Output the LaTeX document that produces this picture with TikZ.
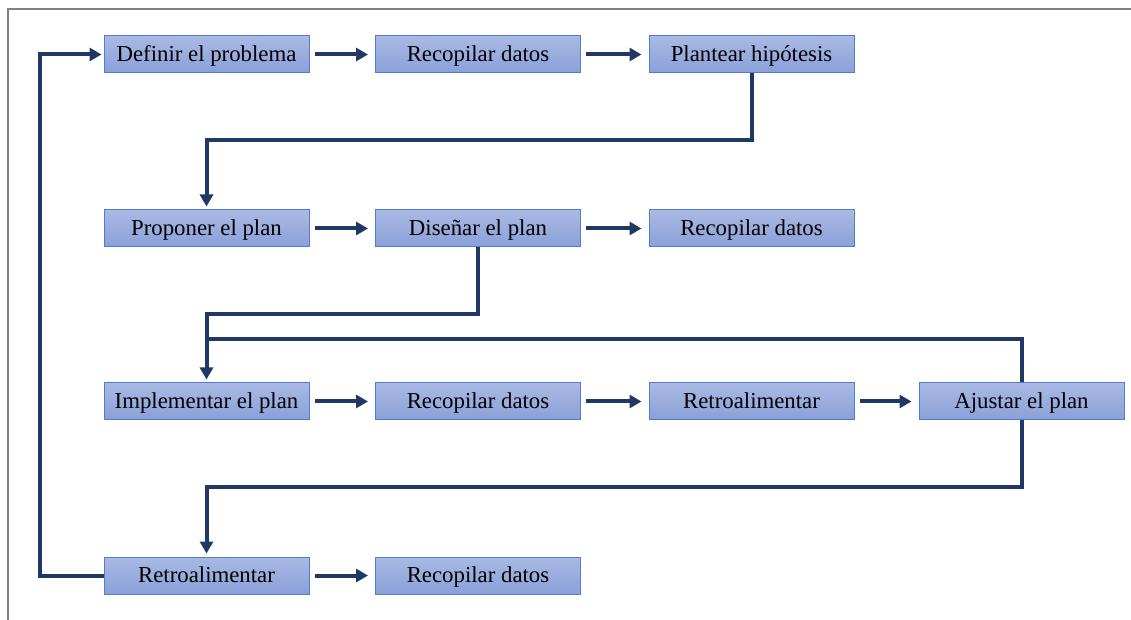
\documentclass[tikz,border=0pt]{standalone}
\usepackage{fontspec}
\setmainfont{Liberation Serif}
\usepackage{xcolor}
\usepackage{tikz}
\usetikzlibrary{arrows.meta}

\definecolor{navy}{RGB}{31,56,100}
\definecolor{boxedge}{RGB}{82,124,206}
\definecolor{boxtop}{RGB}{170,185,228}
\definecolor{boxbottom}{RGB}{137,160,216}
\definecolor{framegray}{RGB}{128,128,128}

\begin{document}
\begin{tikzpicture}[x = 0.5pt, y = -0.5pt,
  stepbox/.style = {draw = boxedge, line width = 0.5pt, top color = boxtop, bottom color = boxbottom,
    minimum width = 102.5pt, minimum height = 18.5pt, inner sep = 0pt,
    text height = 0.8em, text depth = 0.12em,
    font = \fontsize{11.4}{13}\selectfont},
  link/.style = {draw = navy, line width = 2pt},
  flow/.style = {link, -{Triangle[length = 6pt, width = 6.5pt]}}]
\useasboundingbox (0,0) rectangle (1131,620);
\draw [framegray, line width = 1pt] (8,620) -- (8,9) -- (1131,9);

% first row
\node [stepbox] (def) at (206.5,54.5) {Definir el problema};
\node [stepbox] (rec1) at (478,54.5) {Recopilar datos};
\node [stepbox] (hip) at (751.5,54.5) {Plantear hipótesis};
% second row
\node [stepbox] (pro) at (206.5,228.5) {Proponer el plan};
\node [stepbox] (dis) at (478,228.5) {Diseñar el plan};
\node [stepbox] (rec2) at (751.5,228.5) {Recopilar datos};
% third row
\node [stepbox] (imp) at (206.5,401.5) {Implementar el plan};
\node [stepbox] (rec3) at (478,401.5) {Recopilar datos};
\node [stepbox] (ret1) at (751.5,401.5) {Retroalimentar};
\node [stepbox] (aju) at (1021.5,401.5) {Ajustar el plan};
% fourth row
\node [stepbox] (ret2) at (206.5,575.5) {Retroalimentar};
\node [stepbox] (rec4) at (478,575.5) {Recopilar datos};

\coordinate (join) at (206.5,339);

\draw [flow, shorten < = 2.5pt, shorten > = 3.5pt] (def) -- (rec1);
\draw [flow, shorten < = 2.5pt, shorten > = 3.5pt] (rec1) -- (hip);
\draw [flow, shorten < = 2.5pt, shorten > = 3.5pt] (pro) -- (dis);
\draw [flow, shorten < = 2.5pt, shorten > = 3.5pt] (dis) -- (rec2);
\draw [flow, shorten < = 2.5pt, shorten > = 3.5pt] (imp) -- (rec3);
\draw [flow, shorten < = 2.5pt, shorten > = 3.5pt] (rec3) -- (ret1);
\draw [flow, shorten < = 2.5pt, shorten > = 3.5pt] (ret1) -- (aju);
\draw [flow, shorten < = 2.5pt, shorten > = 3.5pt] (ret2) -- (rec4);

\draw [flow, shorten > = 1.5pt] (hip.south) -- ++(0,67) -| (pro.north);
\draw [flow, shorten > = 1.5pt] (dis.south) -- ++(0,67) -| (imp.north);
\draw [link] (aju.north) |- (join);
\draw [flow, shorten > = 1.5pt] (aju.south) -- ++(0,67) -| (ret2.north);
\draw [flow, shorten > = 1pt] (ret2.west) -- ++(-64,0) |- (def.west);
\end{tikzpicture}
\end{document}
